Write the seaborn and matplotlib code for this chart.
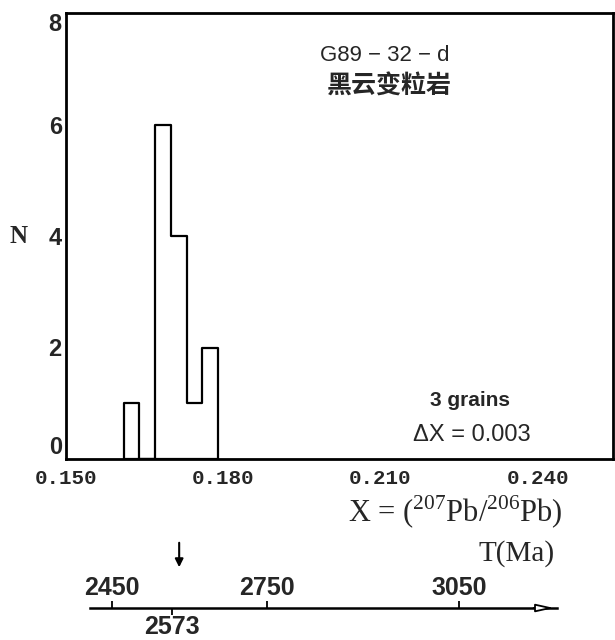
import matplotlib
matplotlib.use('Agg')
import matplotlib.pyplot as plt
import seaborn as sns

# 207Pb/206Pb ratio histogram, bin width 0.003
bin_left = [0.161, 0.164, 0.167, 0.170, 0.173, 0.176]
counts = [1, 0, 6, 4, 1, 2]
bin_width = 0.003

x_ticks = [0.150, 0.180, 0.210, 0.240]
x_labels = ['0.150', '0.180', '0.210', '0.240']
y_ticks = [0, 2, 4, 6, 8]

# age scale (Ma), placed at the ratio positions
age_ticks = [2450, 2750, 3050]
age_pos = [0.1588, 0.1884, 0.2250]
mean_age = 2573
mean_pos = 0.1702
arrow_pos = 0.1716
age_line = (0.1546, 0.2437)

sns.set_theme(style='white')
plt.rcParams['font.family'] = ['Liberation Sans', 'DejaVu Sans']
plt.rcParams['mathtext.fontset'] = 'custom'
plt.rcParams['mathtext.rm'] = 'Liberation Serif'

num_font = dict(family=['Liberation Sans Narrow', 'Liberation Sans'], weight='bold')

fig = plt.figure(figsize=(6.15, 6.4), dpi=100)
ax = fig.add_axes([66/615, 1-459/640, 547/615, 446/640])

edges = bin_left + [bin_left[-1] + bin_width]
centers = [b + bin_width / 2 for b in bin_left]
sns.histplot(x=centers, weights=counts, bins=edges, element='step', fill=True,
             facecolor='white', edgecolor='black', linewidth=1.6, alpha=1, ax=ax)

ax.set_xlim(0.150, 0.2544)
ax.set_ylim(0, 8)
ax.set_xticks(x_ticks, x_labels)
ax.set_yticks(y_ticks)
ax.tick_params(axis='both', direction='in', length=6, width=1.5, color='black')
ax.tick_params(axis='x', pad=7)
ax.tick_params(axis='y', pad=3)
for lab in ax.get_xticklabels():
    lab.set(family='Liberation Mono', weight='bold', fontsize=15)
ylabs = ax.get_yticklabels()
for lab in ylabs:
    lab.set(fontsize=17, **num_font)
ylabs[0].set_va('bottom')
ylabs[-1].set_va('top')
for s in ax.spines.values():
    s.set_visible(True)
    s.set_linewidth(2)
    s.set_color('black')

ax.set_ylabel('N', rotation=0, fontsize=18, fontweight='bold', family='Liberation Serif',
              ha='center', va='center')
ax.yaxis.set_label_coords(-0.086, 0.498)
ax.set_xlabel(r'X = ($^{\mathrm{207}}$Pb/$^{\mathrm{206}}$Pb)', fontsize=22,
              family='Liberation Serif', ha='center', va='center')
ax.xaxis.set_label_coords(0.711, -0.119)

ax.text(0.583, 0.904, 'G89 − 32 − d', transform=ax.transAxes, fontsize=16,
        ha='center', va='center')
ax.text(0.591, 0.836, '黑云变粒岩', transform=ax.transAxes, fontsize=18, fontweight='bold',
        family=['Noto Sans CJK SC', 'DejaVu Sans'], ha='center', va='center')
ax.text(0.739, 0.132, '3 grains', transform=ax.transAxes, fontsize=15, fontweight='bold',
        ha='center', va='center')
ax.text(0.741, 0.054, 'ΔX = 0.003', transform=ax.transAxes, fontsize=17,
        ha='center', va='center')
ax.text(0.823, -0.213, 'T(Ma)', transform=ax.transAxes, fontsize=21,
        family='Liberation Serif', ha='center', va='center')

# age axis below
tax = fig.add_axes([66/615, 13/640, 547/615, 90/640])
tax.set_xlim(ax.get_xlim())
tax.set_ylim(0, 1)
tax.set_facecolor('none')
tax.set_yticks([])
for s in ['left', 'right', 'bottom']:
    tax.spines[s].set_visible(False)
tax.spines['top'].set_position(('axes', 0.211))
tax.spines['bottom'].set_position(('axes', 0.211))
tax.spines['top'].set_bounds(*age_line)
tax.spines['top'].set_linewidth(1.8)
tax.spines['top'].set_color('black')
tax.set_xticks(age_pos, [str(a) for a in age_ticks])
tax.set_xticks([mean_pos], [str(mean_age)], minor=True)
tax.tick_params(which='major', top=True, labeltop=True, bottom=False, labelbottom=False,
                direction='out', length=5, width=1.3, pad=1, color='black')
tax.tick_params(which='minor', bottom=True, labelbottom=True, top=False, labeltop=False,
                direction='out', length=5, width=1.3, pad=0, color='black')
for lab in tax.get_xticklabels() + tax.get_xticklabels(minor=True):
    lab.set(fontsize=18, **num_font)

tax.annotate('', xy=(age_line[1], 0.211), xytext=(age_line[1] - 0.005, 0.211),
             xycoords=('data', 'axes fraction'), textcoords=('data', 'axes fraction'),
             arrowprops=dict(arrowstyle='-|>,head_length=0.9,head_width=0.2',
                             fc='white', ec='black', lw=1.3))
tax.annotate('', xy=(arrow_pos, 0.633), xytext=(arrow_pos, 0.967),
             xycoords=('data', 'axes fraction'), textcoords=('data', 'axes fraction'),
             arrowprops=dict(arrowstyle='-|>', color='black', lw=1.5))

fig.savefig('out.png', dpi=100)
